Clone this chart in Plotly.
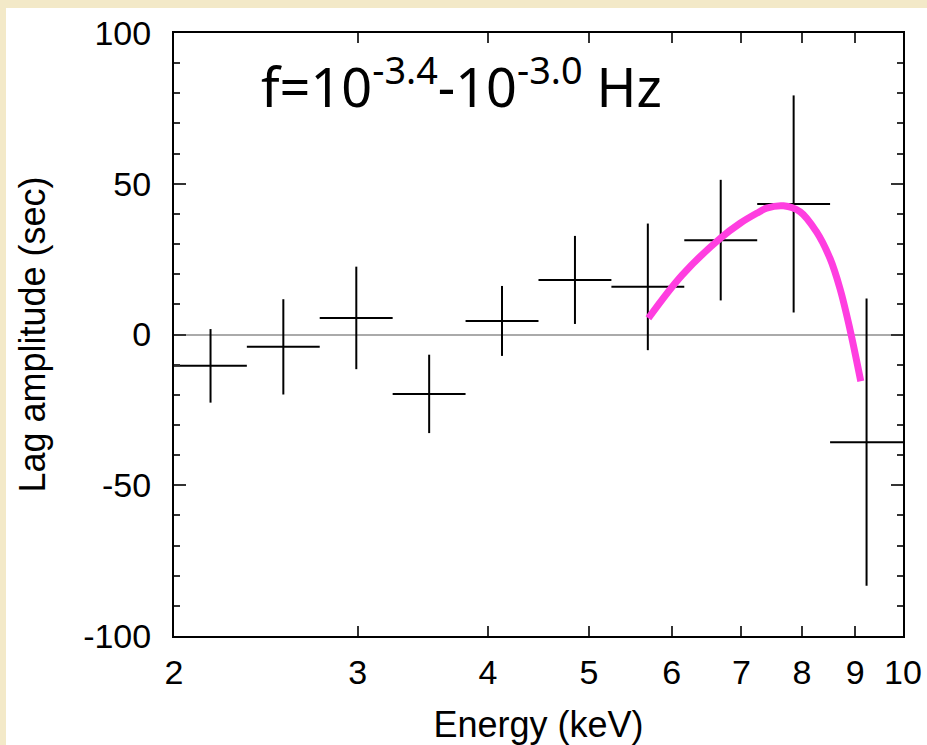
import plotly.graph_objects as go

# Energy bins (keV): centres and bin edges
energy = [2.168, 2.546, 2.991, 3.513, 4.126, 4.847, 5.693, 6.687, 7.855, 9.227]
e_lo = [2.000, 2.349, 2.759, 3.241, 3.807, 4.472, 5.253, 6.170, 7.248, 8.513]
e_hi = [2.349, 2.759, 3.241, 3.807, 4.472, 5.253, 6.170, 7.248, 8.513, 10.00]

# Lag amplitude (sec) and its 1-sigma error
lag = [-10.4, -4.1, 5.5, -19.7, 4.5, 18.1, 15.8, 31.3, 43.3, -35.7]
lag_err = [12.2, 15.8, 17.0, 13.0, 11.6, 14.6, 21.0, 20.0, 36.0, 47.6]

# Model curve
model_e = [5.70, 6.14, 6.68, 6.98, 7.24, 7.40, 7.68, 7.97, 8.26, 8.51, 8.70, 8.89, 9.11]
model_lag = [5.4, 19.7, 31.9, 36.9, 40.2, 41.9, 42.7, 40.7, 34.1, 25.3, 15.3, 2.1, -15.5]

x_tick_vals = [2, 3, 4, 5, 6, 7, 8, 9, 10]
y_tick_vals = [-100, -50, 0, 50, 100]
y_tick_text = ["-100", "-50", "0", "50", "100"]

err_plus_x = [h - c for h, c in zip(e_hi, energy)]
err_minus_x = [c - l for c, l in zip(energy, e_lo)]

fig = go.Figure()

fig.add_trace(go.Scatter(
    x=energy, y=lag, mode="markers",
    marker=dict(size=1, color="rgba(0,0,0,0)"),
    error_x=dict(type="data", symmetric=False, array=err_plus_x, arrayminus=err_minus_x,
                 color="black", thickness=2, width=0),
    error_y=dict(type="data", array=lag_err, color="black", thickness=2, width=0),
    showlegend=False, hoverinfo="skip",
))

fig.add_trace(go.Scatter(
    x=model_e, y=model_lag, mode="lines",
    line=dict(color="#ff3ee0", width=7, shape="spline", smoothing=1.0),
    showlegend=False, hoverinfo="skip",
))

L, R, T, B = 174, 24, 33, 109
W, H = 927, 745
pw, ph = W - L - R, H - T - B


def px_x(p):
    return (p - L) / pw


def px_y(p):
    return (H - B - p) / ph


# parchment border strips along the left and top edges of the page
strip = dict(type="rect", xref="paper", yref="paper", layer="below",
             fillcolor="#f3e9c8", line=dict(width=0))
fig.add_shape(**strip, x0=px_x(-5), x1=px_x(6), y0=px_y(H + 5), y1=px_y(-5))
fig.add_shape(**strip, x0=px_x(-5), x1=px_x(W + 5), y0=px_y(8), y1=px_y(-5))

fig.add_annotation(
    text="f=10<sup>-3.4</sup>-10<sup>-3.0</sup> Hz",
    xref="paper", yref="paper", x=px_x(461), y=px_y(84),
    xanchor="center", yanchor="middle", showarrow=False,
    font=dict(family="Noto Sans", size=54, color="black"),
)

tick_font = dict(family="Liberation Sans, Arial, sans-serif", size=34, color="black")
title_font = dict(family="Liberation Sans, Arial, sans-serif", size=36, color="black")

fig.update_xaxes(
    type="log", range=[0.30103, 1.0], automargin=False,
    tickvals=x_tick_vals, ticktext=[str(v) for v in x_tick_vals],
    ticks="inside", ticklen=10, tickwidth=1.5, tickcolor="#333",
    showline=True, linecolor="black", linewidth=2, mirror="allticks",
    showgrid=False, zeroline=False, tickfont=tick_font, ticklabelstandoff=5,
    title=dict(text="Energy (keV)", font=title_font, standoff=23),
)
fig.update_yaxes(
    range=[-100, 100], tickvals=y_tick_vals, ticktext=y_tick_text, automargin=False,
    ticks="inside", ticklen=12, tickwidth=1.5, tickcolor="#333",
    minor=dict(dtick=10, ticks="inside", ticklen=6, tickwidth=1.5, tickcolor="#333"),
    showline=True, linecolor="black", linewidth=2, mirror="allticks",
    showgrid=False, zeroline=True, zerolinecolor="#aaaaaa", zerolinewidth=1.5,
    tickfont=tick_font, ticklabelstandoff=14,
    title=dict(text="Lag amplitude (sec)", font=title_font, standoff=27),
)

fig.update_layout(
    width=W, height=H,
    margin=dict(l=L, r=R, t=T, b=B),
    paper_bgcolor="white", plot_bgcolor="white",
)

fig.write_html("out.html")
